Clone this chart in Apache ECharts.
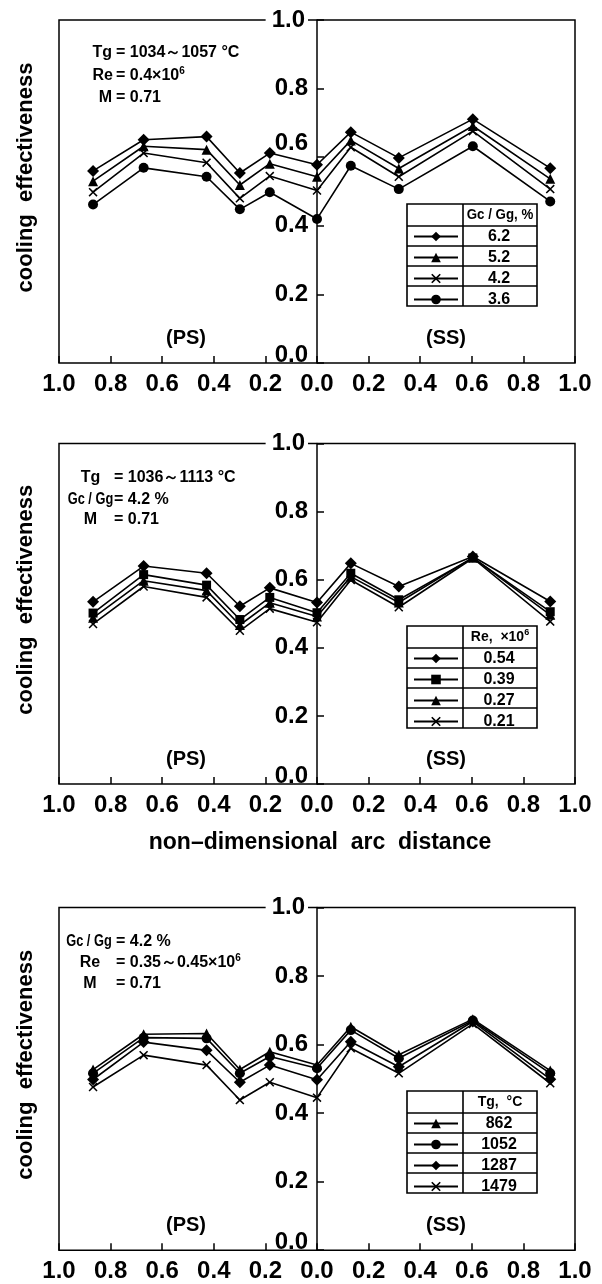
<!DOCTYPE html>
<html>
<head>
<meta charset="utf-8">
<script src="https://cdn.jsdelivr.net/npm/echarts@6/dist/echarts.min.js"></script>
<style>
html,body{margin:0;padding:0;background:#fff;}
#chart{width:602px;height:1284px;}
</style>
</head>
<body>
<div id="chart"></div>
<script>
// ---------- data ----------
const xTicks = [-1.0, -0.8, -0.6, -0.4, -0.2, 0.0, 0.2, 0.4, 0.6, 0.8, 1.0];
const yTicks = [0.0, 0.2, 0.4, 0.6, 0.8, 1.0];
// arc-distance positions (PS side negative, SS side positive)
const xPos = [-0.868, -0.672, -0.428, -0.299, -0.183, 0.0, 0.131, 0.317, 0.604, 0.904];

// panel 1 : Gc/Gg, %
const p1Names = ['6.2', '5.2', '4.2', '3.6'];
const p1_62 = [0.560, 0.651, 0.660, 0.554, 0.612, 0.578, 0.673, 0.598, 0.711, 0.568];
const p1_52 = [0.530, 0.632, 0.622, 0.519, 0.581, 0.543, 0.649, 0.567, 0.691, 0.537];
const p1_42 = [0.498, 0.612, 0.584, 0.480, 0.545, 0.503, 0.629, 0.543, 0.676, 0.507];
const p1_36 = [0.462, 0.569, 0.543, 0.448, 0.498, 0.420, 0.575, 0.507, 0.632, 0.471];

// panel 2 : Re, x10^6
const p2Names = ['0.54', '0.39', '0.27', '0.21'];
const p2_054 = [0.535, 0.640, 0.619, 0.522, 0.576, 0.533, 0.648, 0.580, 0.668, 0.536];
const p2_039 = [0.502, 0.615, 0.584, 0.483, 0.548, 0.503, 0.619, 0.541, 0.664, 0.506];
const p2_027 = [0.488, 0.597, 0.568, 0.467, 0.532, 0.492, 0.609, 0.533, 0.665, 0.497];
const p2_021 = [0.470, 0.580, 0.548, 0.450, 0.515, 0.475, 0.599, 0.519, 0.663, 0.477];

// panel 3 : Tg, °C
const p3Names = ['862', '1052', '1287', '1479'];
const p3_862  = [0.527, 0.630, 0.632, 0.527, 0.579, 0.540, 0.652, 0.570, 0.674, 0.524];
const p3_1052 = [0.516, 0.620, 0.618, 0.516, 0.565, 0.531, 0.642, 0.560, 0.670, 0.516];
const p3_1287 = [0.498, 0.607, 0.583, 0.490, 0.540, 0.497, 0.608, 0.535, 0.667, 0.499];
const p3_1479 = [0.476, 0.569, 0.540, 0.438, 0.490, 0.445, 0.589, 0.516, 0.660, 0.487];

// ---------- styling / layout ----------
const FONT = '"Liberation Sans", Arial, sans-serif';
const XSYM = 'path://M0,1.2L1.2,0L5,3.8L8.8,0L10,1.2L6.2,5L10,8.8L8.8,10L5,6.2L1.2,10L0,8.8L3.8,5Z';
const SYM = {
  diamond: {symbol: 'diamond', size: 12},
  triangle: {symbol: 'triangle', size: 10},
  circle: {symbol: 'circle', size: 10},
  square: {symbol: 'rect', size: 9},
  cross: {symbol: XSYM, size: 9}
};

const GRID_LEFT = 59, GRID_W = 516;
const panels = [
  {top: 20, height: 343, tableTop: 204,
   names: p1Names, values: [p1_62, p1_52, p1_42, p1_36],
   syms: ['diamond', 'triangle', 'cross', 'circle'], lift06: true},
  {top: 443.5, height: 340.5, tableTop: 626,
   names: p2Names, values: [p2_054, p2_039, p2_027, p2_021],
   syms: ['diamond', 'square', 'triangle', 'cross'], lift06: false},
  {top: 907.4, height: 342.8, tableTop: 1091,
   names: p3Names, values: [p3_862, p3_1052, p3_1287, p3_1479],
   syms: ['triangle', 'circle', 'diamond', 'cross'], lift06: false}
];

const near = (a, b) => Math.abs(a - b) < 1e-6;

const grid = [], xAxis = [], yAxis = [], series = [], legend = [], graphic = [];

panels.forEach((p, i) => {
  grid.push({left: GRID_LEFT, width: GRID_W, top: p.top, height: p.height,
    show: true, borderColor: '#000', borderWidth: 1.5, backgroundColor: 'transparent'});

  xAxis.push({
    type: 'value', gridIndex: i, min: xTicks[0], max: xTicks[xTicks.length - 1], interval: 0.2,
    axisLine: {show: false, onZero: false},
    axisTick: {show: true, inside: true, length: 7, lineStyle: {color: '#000', width: 1.5}},
    splitLine: {show: false},
    axisLabel: {
      show: true, margin: 9, color: '#000', fontSize: 24, fontWeight: 'bold', fontFamily: FONT,
      showMinLabel: true, showMaxLabel: true,
      formatter: v => Math.abs(v).toFixed(1)
    }
  });

  yAxis.push({
    type: 'value', gridIndex: i, min: yTicks[0], max: yTicks[yTicks.length - 1], interval: 0.2, z: 5,
    position: 'left', offset: -GRID_W / 2,
    axisLine: {show: true, onZero: false, lineStyle: {color: '#000', width: 1.5}},
    axisTick: {show: true, inside: true, length: 7, lineStyle: {color: '#000', width: 1.5}},
    splitLine: {show: false},
    axisLabel: {
      show: true, margin: 9, color: '#000', fontSize: 24, fontWeight: 'bold', fontFamily: FONT,
      formatter: v => {
        const t = v.toFixed(1);
        if (near(v, 1)) return '{top|' + t + '}';
        if (near(v, 0)) return '{bot|' + t + '}';
        if (p.lift06 && near(v, 0.6)) return '{up|' + t + '}';
        return '{n|' + t + '}';
      },
      rich: {
        n: {fontSize: 24, fontWeight: 'bold', fontFamily: FONT, color: '#000'},
        top: {fontSize: 24, fontWeight: 'bold', fontFamily: FONT, color: '#000',
              backgroundColor: '#fff', padding: [2, 3, 2, 6]},
        bot: {fontSize: 24, fontWeight: 'bold', fontFamily: FONT, color: '#000', padding: [0, 0, 16, 0]},
        up: {fontSize: 24, fontWeight: 'bold', fontFamily: FONT, color: '#000', padding: [0, 0, 28, 0]}
      }
    }
  });

  p.names.forEach((nm, k) => {
    const s = SYM[p.syms[k]];
    series.push({
      type: 'line', name: nm, xAxisIndex: i, yAxisIndex: i,
      data: xPos.map((x, j) => [x, p.values[k][j]]),
      symbol: s.symbol, symbolSize: s.size, showAllSymbol: true,
      lineStyle: {color: '#000', width: 1.6},
      itemStyle: {color: '#000', borderColor: '#000', borderWidth: 0},
      emphasis: {disabled: true},
      animation: false, z: 3
    });
  });

  // legend table frame
  const tx = 407, tw = 130, split = 463, hh = 22, rh = 20;
  const tt = p.tableTop, tb = tt + hh + 4 * rh;
  graphic.push({type: 'rect', z: 8, shape: {x: tx, y: tt, width: tw, height: tb - tt},
    style: {fill: '#fff', stroke: '#000', lineWidth: 1.6}});
  graphic.push({type: 'line', z: 9, shape: {x1: split, y1: tt, x2: split, y2: tb},
    style: {stroke: '#000', lineWidth: 1.6}});
  for (let r = 0; r < 4; r++) {
    const yy = tt + hh + r * rh;
    graphic.push({type: 'line', z: 9, shape: {x1: tx, y1: yy, x2: tx + tw, y2: yy},
      style: {stroke: '#000', lineWidth: 1.6}});
  }

  legend.push({
    data: p.names, orient: 'vertical', left: 413, top: tt + hh + 2.5, padding: 0,
    itemWidth: 44, itemHeight: 12, itemGap: 5, selectedMode: false, z: 12,
    formatter: n => '{v|' + n + '}',
    textStyle: {rich: {v: {width: 72, align: 'center', fontSize: 16, fontWeight: 'bold',
      fontFamily: FONT, color: '#000'}}}
  });

  // (PS) / (SS)
  const lblY = p.top + p.height - 25;
  graphic.push({type: 'text', z: 10, x: 186, y: lblY,
    style: {text: '(PS)', font: 'bold 20px ' + FONT, fill: '#000', align: 'center', verticalAlign: 'middle'}});
  graphic.push({type: 'text', z: 10, x: 446, y: lblY,
    style: {text: '(SS)', font: 'bold 20px ' + FONT, fill: '#000', align: 'center', verticalAlign: 'middle'}});

  // y title
  graphic.push({type: 'text', z: 10, x: 26, y: p.top + p.height / 2 - 14, rotation: Math.PI / 2,
    style: {text: 'cooling  effectiveness', font: 'bold 22px ' + FONT, fill: '#000',
      align: 'center', verticalAlign: 'middle'}});
});

// table headers
const headFont = 'bold 14px ' + FONT;
const supRich = {sup: {fontSize: 9, fontWeight: 'bold', fontFamily: FONT, padding: [0, 0, 8, 0]}};
graphic.push({type: 'text', z: 10, x: 500, y: 215, scaleX: 0.95,
  style: {text: 'Gc / Gg, %', font: headFont, fill: '#000', align: 'center', verticalAlign: 'middle'}});
graphic.push({type: 'text', z: 10, x: 500, y: 637,
  style: {text: 'Re,  ×10{sup|6}', font: headFont, fill: '#000', align: 'center', verticalAlign: 'middle', rich: supRich}});
graphic.push({type: 'text', z: 10, x: 500, y: 1102,
  style: {text: 'Tg,  °C', font: headFont, fill: '#000', align: 'center', verticalAlign: 'middle'}});

// annotations
const aFont = 'bold 16px ' + FONT;
const annoRich = {sup: {fontSize: 10, fontWeight: 'bold', fontFamily: FONT, padding: [0, 0, 9, 0]}};
function anno(lbl, val, lx, vx, y, alignL, sx) {
  graphic.push({type: 'text', z: 10, x: lx, y: y, scaleX: sx || 1,
    style: {text: lbl, font: aFont, fill: '#000', align: alignL, verticalAlign: 'middle'}});
  graphic.push({type: 'text', z: 10, x: vx, y: y,
    style: {text: val, font: aFont, fill: '#000', align: 'left', verticalAlign: 'middle', rich: annoRich}});
}
anno('Tg', '= 1034～1057 °C', 112, 116, 53, 'right');
anno('Re', '= 0.4×10{sup|6}', 113, 116, 76, 'right');
anno('M', '= 0.71', 112, 116, 98, 'right');

anno('Tg', '= 1036～1113 °C', 90.5, 114, 478, 'center');
anno('Gc / Gg', '= 4.2 %', 90.5, 114, 500, 'center', 0.8);
anno('M', '= 0.71', 90.5, 114, 520, 'center');

anno('Gc / Gg', '= 4.2 %', 89, 116, 942, 'center', 0.8);
anno('Re', '= 0.35～0.45×10{sup|6}', 90, 116, 963, 'center');
anno('M', '= 0.71', 90, 116, 984, 'center');

// x title (middle panel)
graphic.push({type: 'text', z: 10, x: 320, y: 843,
  style: {text: 'non–dimensional  arc  distance', font: 'bold 23px ' + FONT, fill: '#000',
    align: 'center', verticalAlign: 'middle'}});

const chart = echarts.init(document.getElementById('chart'), null, {renderer: 'canvas'});
chart.setOption({
  backgroundColor: '#fff',
  animation: false,
  grid, xAxis, yAxis, series, legend, graphic
});
</script>
</body>
</html>
